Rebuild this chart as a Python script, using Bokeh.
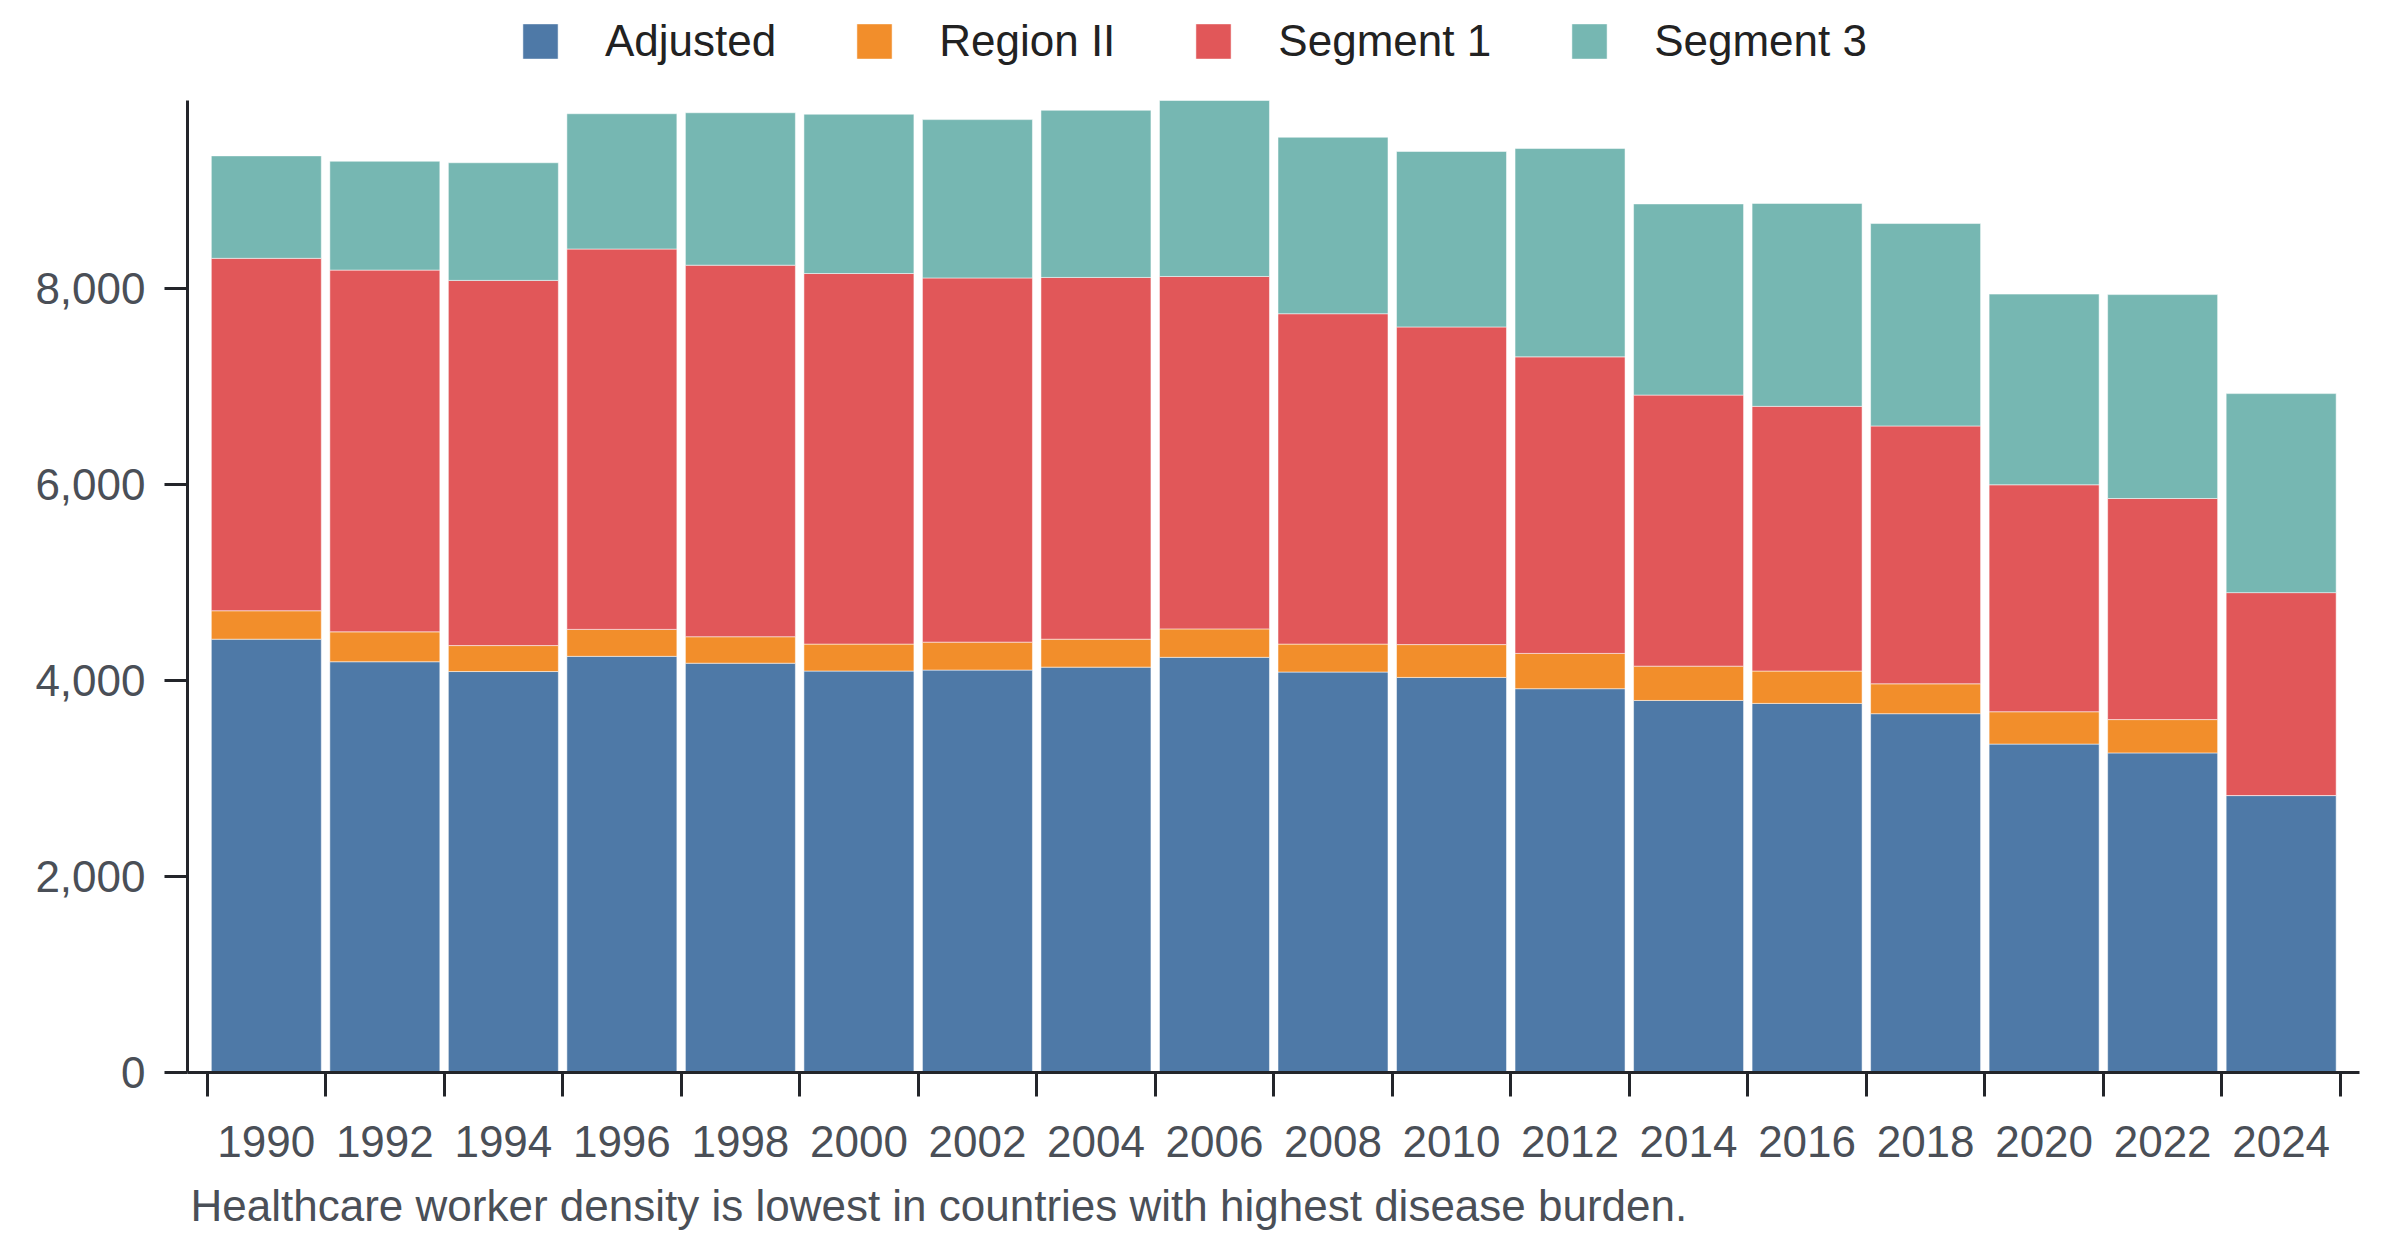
from bokeh.plotting import figure
from bokeh.models import (ColumnDataSource, Range1d, FixedTicker, NumeralTickFormatter,
                          Legend, LegendItem, Title)
from bokeh.embed import file_html
from bokeh.resources import INLINE

# ---- data ----
years = ["1990", "1992", "1994", "1996", "1998", "2000", "2002", "2004", "2006",
         "2008", "2010", "2012", "2014", "2016", "2018", "2020", "2022", "2024"]
adjusted = [4420, 4190, 4090, 4245, 4175, 4095, 4105, 4135, 4235,
            4085, 4030, 3915, 3795, 3765, 3660, 3350, 3260, 2825]
region_ii = [290, 305, 265, 275, 270, 275, 285, 285, 290,
             285, 335, 360, 350, 330, 305, 330, 340, 0]
segment_1 = [3595, 3690, 3725, 3880, 3790, 3780, 3715, 3690, 3595,
             3370, 3240, 3025, 2765, 2700, 2630, 2315, 2255, 2070]
segment_3 = [1045, 1110, 1200, 1380, 1555, 1625, 1615, 1705, 1795,
             1800, 1790, 2125, 1950, 2070, 2065, 1945, 2080, 2030]
series = ["Adjusted", "Region II", "Segment 1", "Segment 3"]
colors = ["#4e79a7", "#f28e2b", "#e15759", "#76b7b2"]
y_ticks = [0, 2000, 4000, 6000, 8000]
caption = "Healthcare worker density is lowest in countries with highest disease burden."

FONT = "Liberation Sans"
TICK_COLOR = "#4a4f57"
AXIS_COLOR = "#23252a"

# layout (pixels): frame spans the canvas top so the legend can live inside it;
# the data area starts 100px below the top.
FRAME_W = 2172
FRAME_H = 1072
DATA_TOP = 100
BOTTOM = 176

n = len(years)
xs = list(range(n))
src = ColumnDataSource(dict(x=xs, **{"Adjusted": adjusted, "Region II": region_ii,
                                     "Segment 1": segment_1, "Segment 3": segment_3}))
totals = [a + b + c + d for a, b, c, d in zip(adjusted, region_ii, segment_1, segment_3)]
y_max = max(totals)
y_end = y_max * FRAME_H / (FRAME_H - DATA_TOP)
x_lo, x_hi = -0.665, (n - 1) + 0.661

p = figure(width=187 + FRAME_W + 33, height=FRAME_H + BOTTOM, output_backend="svg",
           toolbar_location=None,
           x_range=Range1d(x_lo, x_hi), y_range=Range1d(0, y_end),
           min_border_left=187, min_border_right=33, min_border_top=0, min_border_bottom=BOTTOM)

renderers = p.vbar_stack(series, x="x", width=0.928, source=src,
                         fill_color=colors, line_color="white", line_width=1, line_alpha=0.5)

legend = Legend(items=[LegendItem(label=s, renderers=[r]) for s, r in zip(series, renderers)],
                orientation="horizontal", location=(331, 1006),
                glyph_width=44, glyph_height=44, label_standoff=43, spacing=76,
                padding=0, margin=0, border_line_alpha=0, background_fill_alpha=0,
                label_text_font=FONT, label_text_font_size="44px", label_text_color="#222222")
p.add_layout(legend, "center")

# x axis: labels at bar centres, ticks at band boundaries
xaxis = p.xaxis[0]
xaxis.ticker = FixedTicker(ticks=xs, minor_ticks=[i - 0.5 for i in range(n + 1)])
xaxis.major_label_overrides = {i: y for i, y in enumerate(years)}
xaxis.major_tick_out = 0
xaxis.major_tick_in = 0
xaxis.minor_tick_out = 24
xaxis.minor_tick_in = 0
xaxis.minor_tick_line_width = 3
xaxis.minor_tick_line_color = AXIS_COLOR
xaxis.major_label_standoff = 29

# y axis
yaxis = p.yaxis[0]
yaxis.ticker = FixedTicker(ticks=y_ticks)
yaxis.formatter = NumeralTickFormatter(format="0,0")
yaxis.bounds = (0, y_max)
yaxis.major_tick_out = 23
yaxis.major_tick_in = 0
yaxis.minor_tick_out = 0
yaxis.minor_tick_in = 0
yaxis.major_tick_line_width = 3
yaxis.major_label_standoff = 19

for ax in (xaxis, yaxis):
    ax.axis_line_width = 3
    ax.axis_line_color = AXIS_COLOR
    ax.major_tick_line_color = AXIS_COLOR
    ax.major_label_text_font = FONT
    ax.major_label_text_font_size = "44px"
    ax.major_label_text_color = TICK_COLOR

p.xgrid.visible = False
p.ygrid.visible = False
p.outline_line_color = None

# caption below the axis, left-aligned with the plot area
p.add_layout(Title(text=caption, align="left", offset=3, standoff=38, text_font=FONT,
                   text_font_size="44px", text_font_style="normal", text_color=TICK_COLOR),
             "below")

open("out.html", "w").write(file_html(p, INLINE))
